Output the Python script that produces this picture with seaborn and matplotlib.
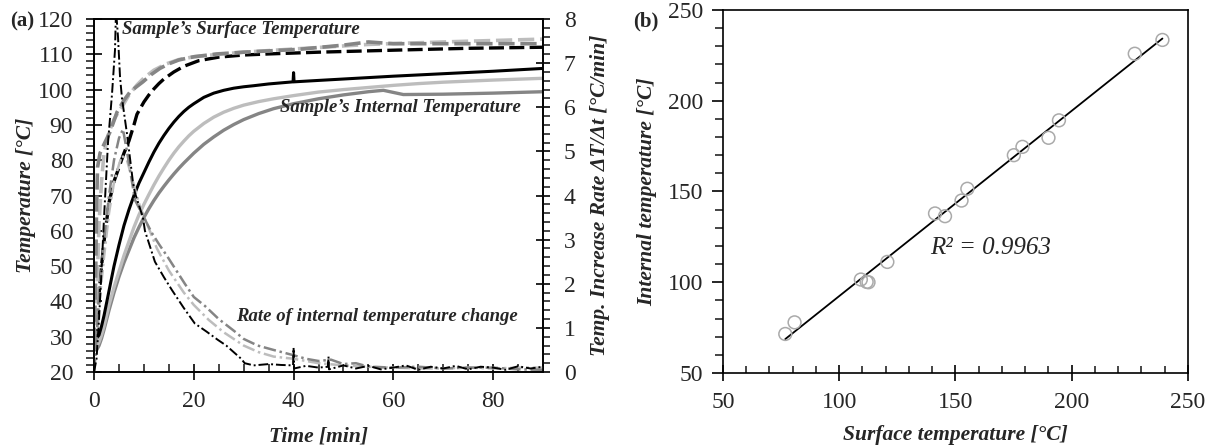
import numpy as np
import pandas as pd
import matplotlib
matplotlib.use("Agg")
import matplotlib.pyplot as plt
from matplotlib import font_manager
from matplotlib.ticker import MultipleLocator
import seaborn as sns

# ---------------- data: panel (a) ----------------
# Surface temperatures (dashed)
t_surf_light = [0, 0.5, 1, 1.5, 2, 3, 4, 5, 5.8, 7, 8.6, 10, 12, 14.5, 17, 20, 25, 30, 40, 55, 70, 90]
T_surf_light = [27, 40, 62, 74, 82, 88, 91.5, 94, 95.6, 98.5, 101.3, 103.3, 105.5, 107.3, 108.5, 109.3, 110, 110.6, 111.5, 112.8, 113.5, 114.3]

t_surf_mid = [0, 0.3, 0.5, 0.7, 1.2, 2, 3.2, 4.6, 6, 7.2, 8.5, 9.8, 11.5, 13.2, 15, 17, 20, 24.6, 30, 41, 50, 55, 60, 70, 90]
T_surf_mid = [28, 45, 66, 78, 82, 84.5, 88, 93.6, 97, 99.3, 100.8, 102.2, 104.3, 106, 107.3, 108.4, 109.3, 110.1, 110.6, 111.4, 112.6, 113.5, 113, 113, 113]

t_surf_black = [0, 0.5, 1, 1.5, 2, 3, 4, 5, 6, 7, 8, 8.6, 10, 11, 12, 13, 14, 16, 18, 21, 25, 30, 35, 45, 61, 75, 90]
T_surf_black = [28, 30, 42, 50, 57, 68, 74, 78, 82, 85.5, 90, 93, 96.5, 98.5, 100.2, 101.7, 103, 105, 106.6, 108.2, 109.2, 109.8, 110.1, 110.6, 111.2, 111.7, 112]

# Internal temperatures (solid)
t_int_black = [0, 0.5, 1, 1.5, 2, 3, 4, 5, 6, 7, 8, 9, 10, 11, 12, 13, 14, 15, 16, 17, 18, 19, 20, 22, 24, 26, 28, 30,
               32, 35, 39.9, 40, 40.1, 45, 50, 60, 70, 80, 90]
T_int_black = [29.5, 29.5, 30.5, 33, 36, 43, 50, 56, 61.5, 66, 70, 73.5, 76.5, 79.5, 82.3, 84.8, 87, 89, 90.8, 92.4, 93.8, 95, 96,
               97.8, 99, 99.8, 100.4, 100.8, 101.1, 101.6, 102.2, 104.8, 102.2, 102.6, 103, 103.8, 104.5, 105.2, 106]

t_int_light = [0, 0.5, 1, 1.5, 2, 3, 4, 5, 6, 7, 8, 9, 10, 11, 12, 13, 14, 15, 16, 17, 18, 19, 20, 22, 24, 26, 28, 30,
               33, 36, 40, 45, 50, 55, 60, 65, 70, 80, 90]
T_int_light = [27.5, 27, 28.5, 30.5, 33, 39, 44, 48.5, 53, 57, 61, 64.5, 67.5, 70.3, 73, 75.5, 77.8, 80, 82, 83.8, 85.4, 86.9, 88.2,
               90.4, 92.2, 93.6, 94.7, 95.6, 96.6, 97.4, 98.3, 99.3, 100, 100.6, 101.2, 101.7, 102.1, 102.7, 103.2]

t_int_mid = [0, 0.5, 1, 1.5, 2, 3, 4, 5, 6, 7, 8, 9, 10, 11, 12, 13, 14, 15, 16, 17, 18, 19, 20, 22, 24, 26, 28, 30,
             33, 36, 40, 45, 50, 55, 58, 60, 62, 70, 80, 90]
T_int_mid = [26.5, 26.2, 27.5, 29.5, 32, 37.5, 42.5, 47, 51, 54.5, 58, 61, 63.8, 66.3, 68.6, 70.7, 72.6, 74.4, 76.1, 77.7, 79.2, 80.6, 82,
             84.5, 86.6, 88.5, 90.1, 91.5, 93.2, 94.6, 96.0, 97.4, 98.5, 99.4, 99.8, 99.2, 98.6, 98.7, 99, 99.4]

# Rates of internal temperature change (dash-dot, right axis)
t_rate_black = [0, 0.5, 1, 1.5, 2, 2.8, 3.6, 4.2, 4.4, 4.8, 5.2, 5.6, 6.6, 7.8, 8.2, 9.8, 10.2, 12.2, 14, 15.6, 18,
                20.2, 22.5, 24.8, 26.5, 28, 29.5, 30.2, 32, 35, 37.5, 39.9, 40, 40.1, 42.5, 45, 46.9, 47, 47.1, 50, 52.5, 55,
                57.5, 60, 62.5, 65, 67.5, 70, 72.5, 75, 77.5, 80, 82.5, 85, 87.5, 90]
r_rate_black = [0, 0.3, 1.2, 2.3, 3.5, 5.2, 6.3, 7.3, 8.2, 7.6, 6.7, 6.2, 5.4, 4.3, 4.06, 3.5, 3.2, 2.5, 2.15, 1.86, 1.45,
                1.1, 0.92, 0.73, 0.6, 0.45, 0.3, 0.2, 0.15, 0.18, 0.16, 0.15, 0.55, 0.08, 0.14, 0.1, 0.12, 0.35, 0.06, 0.15, 0.08, 0.14,
                0.06, 0.1, 0.15, 0.05, 0.12, 0.08, 0.14, 0.06, 0.12, 0.1, 0.05, 0.13, 0.08, 0.12]

t_rate_mid = [0, 0.5, 1, 2, 3, 4, 5, 5.8, 6.6, 8.2, 10, 11.6, 13, 14.8, 16.5, 18.2, 20, 22.2, 25, 28.2, 30, 32.8, 36,
              40, 42.5, 45, 47.5, 50, 52.5, 55, 60, 65, 70, 75, 80, 85, 90]
r_rate_mid = [0, 0.8, 1.8, 3.0, 4.0, 4.8, 5.3, 5.5, 5.0, 3.9, 3.5, 3.15, 2.9, 2.6, 2.3, 2.0, 1.7, 1.5, 1.2, 0.92, 0.75, 0.6, 0.5,
              0.38, 0.3, 0.25, 0.28, 0.18, 0.2, 0.12, 0.1, 0.12, 0.08, 0.1, 0.1, 0.06, 0.05]

t_rate_light = [0, 0.5, 1, 2, 3, 4, 5, 5.6, 6.6, 9.2, 11, 12.6, 15, 18, 20, 23, 26, 30, 33, 36, 40, 45, 50,
                55, 60, 65, 70, 75, 80, 85, 90]
r_rate_light = [0, 0.6, 1.5, 2.6, 3.6, 4.3, 4.7, 4.9, 4.8, 3.75, 3.25, 2.8, 2.3, 1.8, 1.52, 1.18, 0.9, 0.6, 0.45, 0.35,
                0.3, 0.2, 0.15, 0.12, 0.1, 0.08, 0.08, 0.1, 0.08, 0.1, 0.1]

# ---------------- data: panel (b) ----------------
surface_T = [76.8, 80.8, 109.3, 111.8, 112.6, 120.7, 141.2, 145.5, 152.6, 155.1, 175.1, 178.8, 190.0, 194.5, 227.1, 239.0]
internal_T = [71.5, 77.9, 101.5, 100.2, 100.0, 111.2, 137.9, 136.4, 145.0, 151.5, 170.0, 174.6, 179.6, 189.2, 225.9, 233.5]
r2_label = "R² = 0.9963"

# ---------------- styling ----------------
sns.set_style("ticks")
_available = set(f.name for f in font_manager.fontManager.ttflist)
_serif = None
for cand in ["Liberation Serif", "Tinos", "Times New Roman", "TeX Gyre Termes", "Nimbus Roman",
             "STIX Two Text", "STIXGeneral", "Noto Serif", "PT Serif", "DejaVu Serif"]:
    if cand in _available:
        _serif = cand
        break
plt.rcParams['font.family'] = [_serif, 'DejaVu Serif']

BLACK = "#000000"
MID = "#858585"
LIGHT = "#bdbdbd"

fig = plt.figure(figsize=(12.12, 4.48), dpi=100)
ax1 = fig.add_axes([0.0776, 0.1696, 0.3704, 0.788])
ax2 = ax1.twinx()
axb = fig.add_axes([0.5965, 0.1674, 0.3837, 0.8103])

def line(ax, t, v, color, ls, lw):
    df = pd.DataFrame({"t": t, "v": v})
    sns.lineplot(data=df, x="t", y="v", ax=ax, color=color, linestyle=ls, linewidth=lw,
                 estimator=None, sort=False, legend=False)

dash = (0, (4.5, 1.6))
dashdot = (0, (5, 1.5, 1, 1.5))

line(ax2, t_rate_light, r_rate_light, LIGHT, dashdot, 1.8)
line(ax2, t_rate_mid, r_rate_mid, MID, dashdot, 1.8)
line(ax2, t_rate_black, r_rate_black, BLACK, dashdot, 1.4)

line(ax1, t_int_mid, T_int_mid, MID, "-", 2.4)
line(ax1, t_int_light, T_int_light, LIGHT, "-", 2.4)
line(ax1, t_int_black, T_int_black, BLACK, "-", 2.2)
line(ax1, t_surf_black, T_surf_black, BLACK, dash, 2.4)
line(ax1, t_surf_light, T_surf_light, LIGHT, dash, 2.6)
line(ax1, t_surf_mid, T_surf_mid, MID, dash, 2.6)

ax1.set_xlim(0, 90)
ax1.set_ylim(20, 120)
ax2.set_ylim(0, 8)
ax1.xaxis.set_major_locator(MultipleLocator(20))
ax1.xaxis.set_minor_locator(MultipleLocator(5))
ax1.yaxis.set_major_locator(MultipleLocator(10))
ax1.yaxis.set_minor_locator(MultipleLocator(2))
ax2.yaxis.set_major_locator(MultipleLocator(1))
ax2.yaxis.set_minor_locator(MultipleLocator(0.2))

TICKFS = 17
LABFS = 15.5
ANNFS = 13.5

for ax in (ax1, ax2, axb):
    for s in ax.spines.values():
        s.set_color("black")
        s.set_linewidth(1.2)
        s.set_visible(True)

ax1.tick_params(axis='x', which='major', direction='inout', length=12, width=1.4, labelsize=TICKFS, top=False, pad=8)
ax1.tick_params(axis='x', which='minor', direction='in', length=6, width=1.2, top=False)
ax1.tick_params(axis='y', which='major', direction='inout', length=12, width=1.4, labelsize=TICKFS, right=False, pad=9)
ax1.tick_params(axis='y', which='minor', direction='out', length=6, width=1.2, right=False)
ax2.tick_params(axis='y', which='major', direction='inout', length=10, width=1.4, labelsize=TICKFS, left=False, pad=10)
ax2.tick_params(axis='y', which='minor', direction='out', length=5, width=1.2, left=False)

ax1.set_xlabel("Time [min]", fontsize=LABFS, fontweight='bold', fontstyle='italic', labelpad=10)
ax1.set_ylabel("Temperature [°C]", fontsize=LABFS, fontweight='bold', fontstyle='italic', labelpad=1)
ax2.set_ylabel("Temp. Increase Rate ΔT/Δt [°C/min]", fontsize=LABFS, fontweight='bold', fontstyle='italic', labelpad=10)

ax1.text(5.6, 116.9, "Sample’s Surface Temperature", fontsize=ANNFS, fontweight='bold', fontstyle='italic', va='center', ha='left')
ax1.text(37.2, 94.8, "Sample’s Internal Temperature", fontsize=ANNFS, fontweight='bold', fontstyle='italic', va='center', ha='left')
ax1.text(28.4, 35.6, "Rate of internal temperature change", fontsize=ANNFS, fontweight='bold', fontstyle='italic', va='center', ha='left')

fig.text(0.008, 0.952, "(a)", fontsize=15, fontweight='bold', va='center', ha='left')
fig.text(0.522, 0.952, "(b)", fontsize=15, fontweight='bold', va='center', ha='left')

# ---------------- panel (b) ----------------
dfb = pd.DataFrame({"surface": surface_T, "internal": internal_T})
sns.regplot(data=dfb, x="surface", y="internal", ax=axb, scatter=False, ci=None, truncate=True,
            line_kws=dict(color="black", linewidth=1.3))
sns.scatterplot(data=dfb, x="surface", y="internal", ax=axb, s=85, facecolor="none",
                edgecolor="#aaaaaa", linewidth=1.1, zorder=3)
axb.set_xlim(50, 250)
axb.set_ylim(50, 250)
axb.xaxis.set_major_locator(MultipleLocator(50))
axb.xaxis.set_minor_locator(MultipleLocator(10))
axb.yaxis.set_major_locator(MultipleLocator(50))
axb.yaxis.set_minor_locator(MultipleLocator(10))
axb.tick_params(axis='x', which='major', direction='inout', length=12, width=1.4, labelsize=TICKFS, pad=8)
axb.tick_params(axis='x', which='minor', direction='in', length=5, width=1.2)
axb.tick_params(axis='y', which='major', direction='out', length=8, width=1.4, labelsize=TICKFS, pad=6)
axb.tick_params(axis='y', which='minor', direction='out', length=6, width=1.2)
axb.set_xlabel("Surface temperature [°C]", fontsize=LABFS, fontweight='bold', fontstyle='italic', labelpad=8)
axb.set_ylabel("Internal temperature [°C]", fontsize=LABFS, fontweight='bold', fontstyle='italic', labelpad=8)
axb.text(139, 119, r2_label, fontsize=18, fontstyle='italic', va='center', ha='left')

fig.savefig("out.png", dpi=100)
